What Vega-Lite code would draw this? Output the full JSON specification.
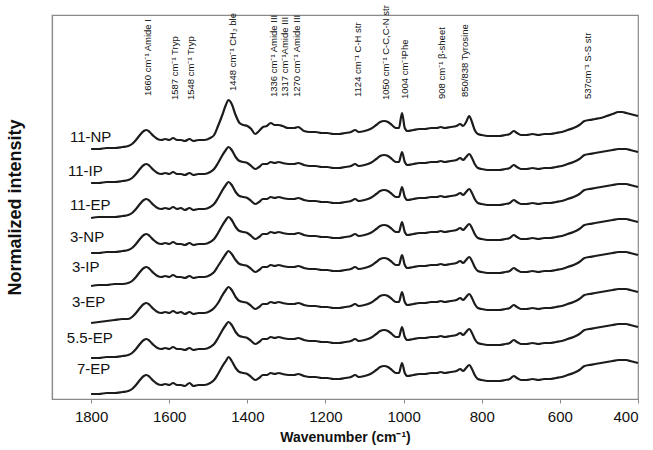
{
  "$schema": "https://vega.github.io/schema/vega-lite/v6.json",
  "width": 586,
  "height": 384,
  "autosize": "none",
  "padding": {"left": 52, "top": 15, "right": 15, "bottom": 51},
  "background": "white",
  "config": {
    "font": "Liberation Sans",
    "view": {"stroke": "#8a8a8a", "strokeWidth": 1.2}
  },
  "datasets": {
    "spectra": [
      {"w":1800,"n11":250,"i11":216,"e11":181,"n3":146,"i3":113,"e3":76,"e55":41,"e7":5},
      {"w":1780,"n11":250,"i11":216,"e11":182,"n3":146,"i3":114,"e3":77,"e55":41,"e7":5},
      {"w":1760,"n11":251,"i11":217,"e11":182,"n3":147,"i3":114,"e3":78,"e55":42,"e7":6},
      {"w":1740,"n11":251,"i11":217,"e11":182,"n3":147,"i3":115,"e3":79,"e55":42,"e7":6},
      {"w":1720,"n11":252,"i11":218,"e11":183,"n3":148,"i3":115,"e3":80,"e55":43,"e7":7},
      {"w":1705,"n11":253,"i11":219,"e11":184,"n3":149,"i3":116,"e3":80,"e55":44,"e7":8},
      {"w":1695,"n11":255,"i11":221,"e11":186,"n3":151,"i3":118,"e3":82,"e55":46,"e7":10},
      {"w":1685,"n11":259,"i11":225,"e11":190,"n3":155,"i3":122,"e3":86,"e55":50,"e7":14},
      {"w":1675,"n11":264,"i11":230,"e11":195,"n3":160,"i3":127,"e3":91,"e55":55,"e7":19},
      {"w":1665,"n11":268,"i11":234,"e11":199,"n3":164,"i3":131,"e3":95,"e55":59,"e7":23},
      {"w":1658,"n11":269,"i11":235,"e11":200,"n3":165,"i3":132,"e3":96,"e55":60,"e7":24},
      {"w":1650,"n11":267,"i11":233,"e11":198,"n3":163,"i3":130,"e3":94,"e55":58,"e7":22},
      {"w":1640,"n11":263,"i11":229,"e11":194,"n3":159,"i3":126,"e3":90,"e55":54,"e7":18},
      {"w":1630,"n11":260,"i11":226,"e11":191,"n3":156,"i3":123,"e3":87,"e55":51,"e7":15},
      {"w":1620,"n11":259,"i11":225,"e11":190,"n3":155,"i3":122,"e3":86,"e55":50,"e7":14},
      {"w":1610,"n11":260,"i11":226,"e11":191,"n3":156,"i3":123,"e3":87,"e55":51,"e7":15},
      {"w":1600,"n11":259,"i11":225,"e11":190,"n3":155,"i3":122,"e3":86,"e55":50,"e7":14},
      {"w":1590,"n11":261,"i11":227,"e11":192,"n3":157,"i3":124,"e3":88,"e55":52,"e7":16},
      {"w":1580,"n11":259,"i11":225,"e11":190,"n3":155,"i3":122,"e3":86,"e55":50,"e7":14},
      {"w":1570,"n11":259,"i11":225,"e11":191,"n3":155,"i3":122,"e3":87,"e55":50,"e7":14},
      {"w":1560,"n11":258,"i11":224,"e11":189,"n3":154,"i3":121,"e3":85,"e55":49,"e7":13},
      {"w":1548,"n11":260,"i11":226,"e11":191,"n3":156,"i3":123,"e3":87,"e55":51,"e7":16},
      {"w":1538,"n11":258,"i11":224,"e11":189,"n3":154,"i3":121,"e3":85,"e55":49,"e7":13},
      {"w":1525,"n11":259,"i11":225,"e11":190,"n3":155,"i3":122,"e3":86,"e55":50,"e7":14},
      {"w":1510,"n11":259,"i11":225,"e11":190,"n3":155,"i3":122,"e3":86,"e55":50,"e7":14},
      {"w":1495,"n11":261,"i11":227,"e11":192,"n3":157,"i3":124,"e3":88,"e55":52,"e7":16},
      {"w":1485,"n11":264,"i11":230,"e11":195,"n3":160,"i3":127,"e3":91,"e55":55,"e7":19},
      {"w":1475,"n11":273,"i11":236,"e11":201,"n3":166,"i3":133,"e3":96,"e55":61,"e7":25},
      {"w":1465,"n11":283,"i11":243,"e11":208,"n3":173,"i3":139,"e3":103,"e55":68,"e7":32},
      {"w":1455,"n11":294,"i11":249,"e11":214,"n3":179,"i3":145,"e3":109,"e55":74,"e7":38},
      {"w":1448,"n11":299,"i11":252,"e11":217,"n3":182,"i3":148,"e3":112,"e55":77,"e7":42},
      {"w":1440,"n11":295,"i11":249,"e11":214,"n3":179,"i3":145,"e3":109,"e55":74,"e7":38},
      {"w":1430,"n11":284,"i11":242,"e11":207,"n3":172,"i3":139,"e3":102,"e55":67,"e7":31},
      {"w":1420,"n11":276,"i11":238,"e11":203,"n3":168,"i3":135,"e3":98,"e55":63,"e7":27},
      {"w":1410,"n11":274,"i11":237,"e11":202,"n3":167,"i3":134,"e3":97,"e55":62,"e7":26},
      {"w":1400,"n11":273,"i11":236,"e11":201,"n3":166,"i3":133,"e3":96,"e55":61,"e7":25},
      {"w":1390,"n11":270,"i11":233,"e11":198,"n3":163,"i3":130,"e3":93,"e55":58,"e7":22},
      {"w":1380,"n11":265,"i11":230,"e11":195,"n3":160,"i3":127,"e3":90,"e55":55,"e7":19},
      {"w":1370,"n11":268,"i11":232,"e11":197,"n3":162,"i3":129,"e3":92,"e55":57,"e7":21},
      {"w":1360,"n11":272,"i11":235,"e11":200,"n3":165,"i3":132,"e3":95,"e55":60,"e7":24},
      {"w":1350,"n11":273,"i11":235,"e11":200,"n3":165,"i3":132,"e3":95,"e55":60,"e7":24},
      {"w":1340,"n11":276,"i11":237,"e11":202,"n3":167,"i3":134,"e3":97,"e55":62,"e7":26},
      {"w":1330,"n11":274,"i11":236,"e11":201,"n3":166,"i3":133,"e3":96,"e55":61,"e7":25},
      {"w":1320,"n11":274,"i11":237,"e11":202,"n3":167,"i3":134,"e3":97,"e55":62,"e7":26},
      {"w":1310,"n11":273,"i11":236,"e11":201,"n3":166,"i3":133,"e3":96,"e55":61,"e7":25},
      {"w":1295,"n11":271,"i11":235,"e11":200,"n3":165,"i3":132,"e3":95,"e55":60,"e7":24},
      {"w":1280,"n11":271,"i11":235,"e11":200,"n3":165,"i3":132,"e3":95,"e55":60,"e7":24},
      {"w":1270,"n11":272,"i11":236,"e11":201,"n3":166,"i3":133,"e3":96,"e55":61,"e7":25},
      {"w":1255,"n11":268,"i11":234,"e11":199,"n3":164,"i3":131,"e3":94,"e55":59,"e7":23},
      {"w":1240,"n11":267,"i11":233,"e11":198,"n3":163,"i3":130,"e3":93,"e55":58,"e7":22},
      {"w":1225,"n11":267,"i11":233,"e11":198,"n3":163,"i3":130,"e3":93,"e55":58,"e7":22},
      {"w":1210,"n11":266,"i11":232,"e11":197,"n3":162,"i3":129,"e3":92,"e55":57,"e7":21},
      {"w":1195,"n11":266,"i11":232,"e11":197,"n3":162,"i3":129,"e3":92,"e55":57,"e7":21},
      {"w":1180,"n11":265,"i11":231,"e11":196,"n3":161,"i3":128,"e3":91,"e55":56,"e7":20},
      {"w":1165,"n11":265,"i11":231,"e11":196,"n3":161,"i3":128,"e3":91,"e55":56,"e7":20},
      {"w":1150,"n11":266,"i11":232,"e11":197,"n3":162,"i3":129,"e3":92,"e55":57,"e7":21},
      {"w":1135,"n11":267,"i11":233,"e11":198,"n3":163,"i3":130,"e3":93,"e55":58,"e7":22},
      {"w":1124,"n11":269,"i11":235,"e11":200,"n3":165,"i3":132,"e3":95,"e55":60,"e7":24},
      {"w":1115,"n11":267,"i11":233,"e11":198,"n3":163,"i3":130,"e3":93,"e55":58,"e7":22},
      {"w":1100,"n11":268,"i11":234,"e11":199,"n3":164,"i3":131,"e3":94,"e55":59,"e7":23},
      {"w":1085,"n11":270,"i11":236,"e11":201,"n3":166,"i3":133,"e3":96,"e55":61,"e7":25},
      {"w":1070,"n11":274,"i11":240,"e11":205,"n3":170,"i3":137,"e3":100,"e55":65,"e7":29},
      {"w":1060,"n11":277,"i11":243,"e11":208,"n3":173,"i3":140,"e3":103,"e55":68,"e7":32},
      {"w":1050,"n11":278,"i11":244,"e11":209,"n3":174,"i3":141,"e3":104,"e55":69,"e7":33},
      {"w":1040,"n11":277,"i11":243,"e11":208,"n3":173,"i3":140,"e3":103,"e55":68,"e7":32},
      {"w":1030,"n11":274,"i11":240,"e11":205,"n3":170,"i3":137,"e3":100,"e55":65,"e7":29},
      {"w":1020,"n11":271,"i11":237,"e11":202,"n3":167,"i3":134,"e3":97,"e55":62,"e7":26},
      {"w":1012,"n11":271,"i11":237,"e11":202,"n3":167,"i3":134,"e3":97,"e55":62,"e7":26},
      {"w":1004,"n11":286,"i11":247,"e11":212,"n3":177,"i3":144,"e3":107,"e55":72,"e7":36},
      {"w":997,"n11":271,"i11":237,"e11":202,"n3":167,"i3":134,"e3":97,"e55":62,"e7":26},
      {"w":990,"n11":268,"i11":234,"e11":199,"n3":164,"i3":131,"e3":94,"e55":59,"e7":23},
      {"w":975,"n11":269,"i11":235,"e11":200,"n3":165,"i3":132,"e3":95,"e55":60,"e7":24},
      {"w":960,"n11":270,"i11":236,"e11":201,"n3":166,"i3":133,"e3":96,"e55":61,"e7":25},
      {"w":945,"n11":270,"i11":236,"e11":201,"n3":166,"i3":133,"e3":96,"e55":61,"e7":25},
      {"w":930,"n11":271,"i11":237,"e11":202,"n3":167,"i3":134,"e3":97,"e55":62,"e7":26},
      {"w":915,"n11":271,"i11":237,"e11":202,"n3":167,"i3":134,"e3":97,"e55":62,"e7":26},
      {"w":905,"n11":272,"i11":238,"e11":203,"n3":168,"i3":135,"e3":98,"e55":63,"e7":27},
      {"w":895,"n11":271,"i11":237,"e11":202,"n3":167,"i3":134,"e3":97,"e55":62,"e7":26},
      {"w":880,"n11":272,"i11":238,"e11":203,"n3":168,"i3":135,"e3":98,"e55":63,"e7":27},
      {"w":865,"n11":273,"i11":239,"e11":204,"n3":169,"i3":136,"e3":99,"e55":64,"e7":28},
      {"w":855,"n11":275,"i11":241,"e11":206,"n3":171,"i3":138,"e3":101,"e55":66,"e7":30},
      {"w":848,"n11":273,"i11":239,"e11":204,"n3":169,"i3":136,"e3":99,"e55":64,"e7":28},
      {"w":840,"n11":277,"i11":242,"e11":207,"n3":172,"i3":139,"e3":102,"e55":67,"e7":31},
      {"w":832,"n11":283,"i11":245,"e11":210,"n3":175,"i3":142,"e3":105,"e55":70,"e7":34},
      {"w":825,"n11":277,"i11":241,"e11":206,"n3":171,"i3":138,"e3":101,"e55":66,"e7":30},
      {"w":818,"n11":269,"i11":235,"e11":200,"n3":165,"i3":132,"e3":95,"e55":60,"e7":24},
      {"w":810,"n11":265,"i11":231,"e11":196,"n3":161,"i3":128,"e3":91,"e55":56,"e7":20},
      {"w":800,"n11":264,"i11":230,"e11":195,"n3":160,"i3":127,"e3":90,"e55":55,"e7":19},
      {"w":785,"n11":263,"i11":229,"e11":194,"n3":159,"i3":126,"e3":89,"e55":54,"e7":18},
      {"w":770,"n11":263,"i11":229,"e11":194,"n3":159,"i3":126,"e3":89,"e55":54,"e7":18},
      {"w":755,"n11":263,"i11":229,"e11":194,"n3":159,"i3":126,"e3":89,"e55":54,"e7":18},
      {"w":740,"n11":264,"i11":230,"e11":195,"n3":160,"i3":127,"e3":90,"e55":55,"e7":19},
      {"w":728,"n11":265,"i11":231,"e11":196,"n3":161,"i3":128,"e3":91,"e55":56,"e7":20},
      {"w":718,"n11":268,"i11":234,"e11":199,"n3":164,"i3":131,"e3":94,"e55":59,"e7":23},
      {"w":710,"n11":266,"i11":232,"e11":197,"n3":162,"i3":129,"e3":92,"e55":57,"e7":21},
      {"w":700,"n11":264,"i11":230,"e11":195,"n3":160,"i3":127,"e3":90,"e55":55,"e7":19},
      {"w":685,"n11":264,"i11":230,"e11":195,"n3":160,"i3":127,"e3":90,"e55":55,"e7":19},
      {"w":670,"n11":265,"i11":231,"e11":196,"n3":161,"i3":128,"e3":91,"e55":56,"e7":20},
      {"w":655,"n11":264,"i11":230,"e11":195,"n3":160,"i3":127,"e3":90,"e55":55,"e7":19},
      {"w":640,"n11":265,"i11":231,"e11":196,"n3":161,"i3":128,"e3":91,"e55":56,"e7":20},
      {"w":625,"n11":265,"i11":231,"e11":196,"n3":161,"i3":128,"e3":91,"e55":56,"e7":20},
      {"w":610,"n11":266,"i11":232,"e11":197,"n3":162,"i3":129,"e3":92,"e55":57,"e7":21},
      {"w":595,"n11":267,"i11":233,"e11":198,"n3":163,"i3":130,"e3":93,"e55":58,"e7":22},
      {"w":580,"n11":269,"i11":235,"e11":200,"n3":165,"i3":132,"e3":95,"e55":60,"e7":24},
      {"w":565,"n11":271,"i11":237,"e11":202,"n3":167,"i3":134,"e3":97,"e55":62,"e7":26},
      {"w":550,"n11":274,"i11":240,"e11":205,"n3":170,"i3":137,"e3":100,"e55":65,"e7":29},
      {"w":537,"n11":278,"i11":244,"e11":209,"n3":174,"i3":141,"e3":104,"e55":69,"e7":33},
      {"w":525,"n11":279,"i11":245,"e11":210,"n3":175,"i3":142,"e3":105,"e55":70,"e7":34},
      {"w":510,"n11":280,"i11":246,"e11":211,"n3":176,"i3":143,"e3":106,"e55":71,"e7":35},
      {"w":495,"n11":281,"i11":247,"e11":212,"n3":177,"i3":144,"e3":107,"e55":72,"e7":36},
      {"w":480,"n11":283,"i11":248,"e11":213,"n3":178,"i3":145,"e3":108,"e55":73,"e7":37},
      {"w":465,"n11":285,"i11":249,"e11":214,"n3":179,"i3":146,"e3":109,"e55":74,"e7":38},
      {"w":450,"n11":287,"i11":250,"e11":215,"n3":180,"i3":147,"e3":110,"e55":75,"e7":39},
      {"w":440,"n11":287,"i11":250,"e11":215,"n3":180,"i3":147,"e3":110,"e55":75,"e7":39},
      {"w":430,"n11":286,"i11":250,"e11":215,"n3":180,"i3":147,"e3":110,"e55":75,"e7":39},
      {"w":420,"n11":285,"i11":249,"e11":214,"n3":179,"i3":146,"e3":109,"e55":74,"e7":38},
      {"w":410,"n11":284,"i11":248,"e11":213,"n3":178,"i3":145,"e3":108,"e55":73,"e7":37},
      {"w":400,"n11":283,"i11":247,"e11":212,"n3":177,"i3":144,"e3":107,"e55":72,"e7":36}
    ],
    "names": [
      {"label":"11-NP","w":1854,"v":262},
      {"label":"11-IP","w":1859,"v":228},
      {"label":"11-EP","w":1854,"v":194},
      {"label":"3-NP","w":1854,"v":162},
      {"label":"3-IP","w":1849,"v":132},
      {"label":"3-EP","w":1849,"v":97},
      {"label":"5.5-EP","w":1862,"v":61},
      {"label":"7-EP","w":1836,"v":30}
    ],
    "peaks": [
      {"label":"1660 cm⁻¹ Amide I","w":1654,"v":303},
      {"label":"1587 cm⁻¹ Tryp","w":1585,"v":299},
      {"label":"1548 cm⁻¹ Tryp","w":1544,"v":299},
      {"label":"1448 cm⁻¹ CH₂ ble","w":1436,"v":308},
      {"label":"1336 cm⁻¹ Amide III","w":1331,"v":302},
      {"label":"1317 cm⁻¹Amide III","w":1303,"v":302},
      {"label":"1270 cm⁻¹ Amide III","w":1272,"v":302},
      {"label":"1124 cm⁻¹ C-H str","w":1116,"v":302},
      {"label":"1050 cm⁻¹ C-C,C-N str","w":1045,"v":299},
      {"label":"1004 cm⁻¹Phe","w":996,"v":300},
      {"label":"908 cm⁻¹ β-sheet","w":901,"v":300},
      {"label":"850/838 Tyrosine","w":842,"v":302},
      {"label":"537cm⁻¹ S-S str","w":527,"v":300}
    ]
  },
  "layer": [
    {
      "data": {"name": "spectra"},
      "transform": [
        {"fold": ["n11","i11","e11","n3","i3","e3","e55","e7"], "as": ["trace","v"]}
      ],
      "mark": {"type": "line", "color": "#1c1c1c", "strokeWidth": 2.2, "interpolate": "monotone"},
      "encoding": {
        "x": {
          "field": "w", "type": "quantitative",
          "scale": {"domain": [400, 1900], "reverse": true, "nice": false, "zero": false},
          "axis": {
            "values": [1800,1600,1400,1200,1000,800,600,400],
            "format": "d",
            "title": "Wavenumber (cm⁻¹)",
            "titleFont": "Liberation Sans", "titleFontSize": 14, "titleFontWeight": "bold", "titleColor": "#111",
            "titlePadding": 6,
            "labelFont": "Liberation Sans", "labelFontSize": 15, "labelColor": "#111", "labelPadding": 6,
            "grid": false, "domainColor": "#8a8a8a", "domainWidth": 1.2,
            "tickColor": "#8a8a8a", "tickSize": 4
          }
        },
        "y": {
          "field": "v", "type": "quantitative",
          "scale": {"domain": [0, 384], "nice": false, "zero": false},
          "axis": {
            "title": "Normalized intensity", "labels": false, "ticks": false, "grid": false,
            "domainColor": "#8a8a8a", "domainWidth": 1.2,
            "titleFont": "Liberation Sans", "titleFontSize": 18, "titleFontWeight": "bold", "titleColor": "#111",
            "titlePadding": 28
          }
        },
        "detail": {"field": "trace"}
      }
    },
    {
      "data": {"name": "names"},
      "mark": {"type": "text", "align": "left", "baseline": "middle", "font": "Liberation Sans", "fontSize": 15, "color": "#111"},
      "encoding": {
        "x": {"field": "w", "type": "quantitative"},
        "y": {"field": "v", "type": "quantitative"},
        "text": {"field": "label"}
      }
    },
    {
      "data": {"name": "peaks"},
      "mark": {"type": "text", "align": "left", "baseline": "middle", "angle": 270, "font": "Liberation Sans", "fontSize": 9.5, "color": "#111"},
      "encoding": {
        "x": {"field": "w", "type": "quantitative"},
        "y": {"field": "v", "type": "quantitative"},
        "text": {"field": "label"}
      }
    },
    {
      "mark": {"type": "rule", "color": "#222", "strokeWidth": 1.6},
      "encoding": {"y": {"datum": 384}}
    }
  ]
}
